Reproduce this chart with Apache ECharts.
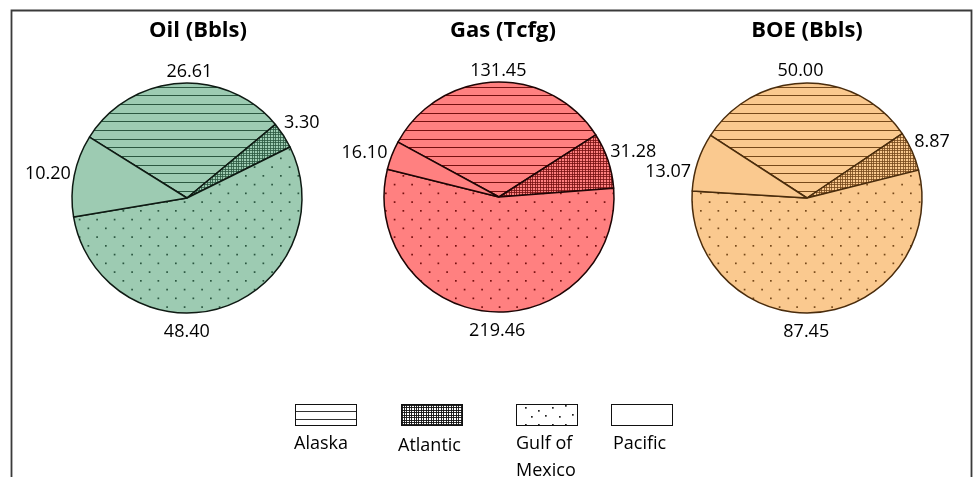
<!DOCTYPE html>
<html>
<head>
<meta charset="utf-8">
<script src="https://cdn.jsdelivr.net/npm/echarts@6/dist/echarts.min.js"></script>
<style>
  html, body { margin: 0; padding: 0; background: #ffffff; }
  #chart { width: 973px; height: 477px; }
</style>
</head>
<body>
<div id="chart"></div>
<script>
// Offshore undiscovered resources by region
const regions = ['Alaska', 'Atlantic', 'Gulf of Mexico', 'Pacific'];
const oilBbls = [26.61, 3.30, 48.40, 10.20];
const gasTcfg = [131.45, 31.28, 219.46, 16.10];
const boeBbls = [50.00, 8.87, 87.45, 13.07];
const pieTitles = ['Oil (Bbls)', 'Gas (Tcfg)', 'BOE (Bbls)'];
const legendLines = [['Alaska'], ['Atlantic'], ['Gulf of', 'Mexico'], ['Pacific']];

const FONT = '"Open Sans", "Noto Sans", sans-serif';

function makeCanvas(w, h) {
  const c = document.createElement('canvas');
  c.width = w; c.height = h;
  return c;
}

// Horizontal rule texture
function drawHLines(g, w, h, ink, rows) {
  g.fillStyle = ink;
  rows.forEach(y => g.fillRect(0, y, w, 1));
}
// Staggered dot texture
function drawDots(g, ink, pts) {
  g.fillStyle = ink;
  pts.forEach(p => g.fillRect(p[0], p[1], 1.7, 1.7));
}
// Dense crosshatch texture
function drawHatch(g, w, h, ink, xs, ys, alpha) {
  g.save();
  g.globalAlpha = alpha;
  g.fillStyle = ink;
  xs.forEach(x => g.fillRect(x, 0, 1, h));
  ys.forEach(y => g.fillRect(0, y, w, 1));
  g.restore();
}

const HATCH_X = [0, 2, 5, 7, 10, 12, 15, 18];
const HATCH_Y = [1, 3, 6, 8, 11, 14, 16, 19];
const DOT_PTS = [[0, 0], [17.5, 0], [8.75, 8.75], [26.25, 8.75], [0, 17.5], [17.5, 17.5], [8.75, 26.25], [26.25, 26.25]];

function tilePatterns(fill, ink) {
  const a = makeCanvas(8, 26);
  let g = a.getContext('2d');
  g.fillStyle = fill; g.fillRect(0, 0, 8, 26);
  drawHLines(g, 8, 26, ink, [0, 9, 17]);

  const b = makeCanvas(21, 21);
  g = b.getContext('2d');
  g.fillStyle = fill; g.fillRect(0, 0, 21, 21);
  drawHatch(g, 21, 21, ink, HATCH_X, HATCH_Y, 0.8);

  const c = makeCanvas(35, 35);
  g = c.getContext('2d');
  g.fillStyle = fill; g.fillRect(0, 0, 35, 35);
  drawDots(g, ink, DOT_PTS);

  return [
    { image: a, repeat: 'repeat' },
    { image: b, repeat: 'repeat' },
    { image: c, repeat: 'repeat' },
    fill
  ];
}

// labelTurn: hand-tuned angular offsets (degrees) that keep value labels clear of each other
const pies = [
  { title: pieTitles[0], values: oilBbls, center: [187, 198], titleX: 198, startAngle: 148,
    fill: '#9dcbb2', ink: '#2b5740', edge: '#0e1a13', labelTurn: [-5, 0, -18, 1.5] },
  { title: pieTitles[1], values: gasTcfg, center: [499, 197], titleX: 503, startAngle: 151.5,
    fill: '#ff8080', ink: '#761010', edge: '#1e0404', labelTurn: [-1.8, 0, 4, 3] },
  { title: pieTitles[2], values: boeBbls, center: [807, 198], titleX: 807, startAngle: 147,
    fill: '#fac98f', ink: '#76491a', edge: '#4a2c0c', labelTurn: [2.4, 0, -5.6, 7.7] }
];
const RADIUS = 115;

// Place each value just outside the rim, near the slice's middle angle
function outsideLabel(values, startAngle, center, r, turn) {
  const total = values.reduce((s, v) => s + v, 0);
  return function (params) {
    const i = params.dataIndex;
    let before = 0;
    for (let k = 0; k < i; k++) before += values[k];
    const midDeg = startAngle - (before + values[i] / 2) / total * 360 + turn[i];
    const a = midDeg * Math.PI / 180;
    const ux = Math.cos(a), uy = -Math.sin(a);
    const w = params.labelRect.width, h = params.labelRect.height;
    const gap = 2 + (uy > 0 ? 8 * uy : 0);
    const d = r + gap + Math.abs(ux) * w / 2 + Math.abs(uy) * h / 2;
    return { x: center[0] + ux * d, y: center[1] + uy * d, align: 'center', verticalAlign: 'middle' };
  };
}

const series = pies.map(p => {
  const fills = tilePatterns(p.fill, p.ink);
  return {
    type: 'pie',
    center: p.center,
    radius: RADIUS,
    startAngle: p.startAngle,
    clockwise: true,
    avoidLabelOverlap: false,
    silent: true,
    animation: false,
    itemStyle: { borderColor: p.edge, borderWidth: 1.5 },
    label: {
      show: true,
      position: 'outside',
      formatter: q => q.value.toFixed(2),
      fontFamily: FONT,
      fontSize: 18,
      color: '#000000'
    },
    labelLine: { show: false },
    labelLayout: outsideLabel(p.values, p.startAngle, p.center, RADIUS, p.labelTurn),
    data: p.values.map((v, i) => ({ name: regions[i], value: v, itemStyle: { color: fills[i] } }))
  };
});

// Legend swatches: black texture on white
function legendSwatch(kind) {
  const w = 62, h = 22;
  const c = makeCanvas(w, h);
  const g = c.getContext('2d');
  g.fillStyle = '#ffffff'; g.fillRect(0, 0, w, h);
  if (kind === 0) drawHLines(g, w, h, '#333333', [7, 15]);
  if (kind === 1) drawHatch(g, w, h, '#111111',
    [1, 3, 5, 8, 10, 13, 15, 17, 20, 22, 25, 27, 30, 32, 35, 37, 40, 42, 45, 47, 50, 52, 55, 57, 60],
    [1, 3, 6, 8, 11, 13, 16, 18, 20], 0.9);
  if (kind === 2) drawDots(g, '#222222', [[9, 3], [22, 6], [36, 3], [49, 1], [15, 12], [29, 11], [43, 12], [56, 10], [9, 20], [22, 20], [36, 20], [49, 20]]);
  g.strokeStyle = '#111111'; g.lineWidth = 1;
  g.strokeRect(0.5, 0.5, w - 1, h - 1);
  return c;
}

const legendX = [295, 401, 516, 611];
const legendTextX = [294, 398, 516, 613];
const legendTextY = [444, 446, 444, 444];
const legendGraphics = [];
regions.forEach((r, i) => {
  legendGraphics.push({
    type: 'image', x: legendX[i], y: 404, silent: true,
    style: { image: legendSwatch(i), width: 62, height: 22 }
  });
  legendLines[i].forEach((line, k) => {
    legendGraphics.push({
      type: 'text', x: legendTextX[i], y: legendTextY[i] + k * 27, silent: true,
      style: { text: line, font: '18px ' + FONT, fill: '#000000', align: 'left', verticalAlign: 'middle' }
    });
  });
});

const chart = echarts.init(document.getElementById('chart'), null, { renderer: 'canvas' });
chart.setOption({
  backgroundColor: '#ffffff',
  animation: false,
  title: pies.map(p => ({
    text: p.title,
    left: p.titleX,
    top: 20,
    textAlign: 'center',
    padding: 0,
    textStyle: { fontFamily: FONT, fontWeight: 'bold', fontSize: 22, color: '#000000' }
  })),
  graphic: [
    {
      type: 'rect', silent: true, z: -1,
      shape: { x: 11.5, y: 10.5, width: 960, height: 500 },
      style: { fill: 'none', stroke: '#3a3a3a', lineWidth: 1.8 }
    }
  ].concat(legendGraphics),
  series: series
});
</script>
</body>
</html>
